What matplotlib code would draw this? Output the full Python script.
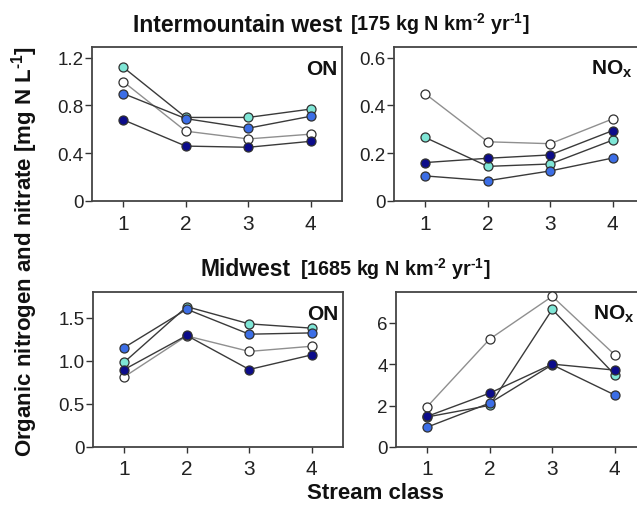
import matplotlib
matplotlib.use("Agg")
import matplotlib.pyplot as plt

plt.rcParams['font.family'] = ['Liberation Sans', 'DejaVu Sans']
plt.rcParams['mathtext.default'] = 'regular'

stream_class = [1, 2, 3, 4]
series_names = ["white", "cyan", "blue", "navy"]

# Intermountain west
imw_on_white = [1.00, 0.585, 0.52, 0.56]
imw_on_cyan = [1.12, 0.70, 0.70, 0.77]
imw_on_blue = [0.90, 0.69, 0.61, 0.71]
imw_on_navy = [0.68, 0.46, 0.45, 0.50]

imw_nox_white = [0.449, 0.248, 0.240, 0.344]
imw_nox_cyan = [0.266, 0.145, 0.155, 0.255]
imw_nox_blue = [0.105, 0.085, 0.126, 0.180]
imw_nox_navy = [0.161, 0.179, 0.193, 0.295]

# Midwest
mw_on_white = [0.815, 1.29, 1.11, 1.17]
mw_on_cyan = [0.985, 1.63, 1.43, 1.38]
mw_on_blue = [1.155, 1.60, 1.31, 1.325]
mw_on_navy = [0.90, 1.295, 0.90, 1.07]

mw_nox_white = [1.95, 5.21, 7.27, 4.45]
mw_nox_cyan = [1.45, 2.01, 6.64, 3.49]
mw_nox_blue = [0.96, 2.12, 3.97, 2.51]
mw_nox_navy = [1.48, 2.60, 4.00, 3.71]

yticks_imw_on = [0, 0.4, 0.8, 1.2]
yticklabels_imw_on = ["0", "0.4", "0.8", "1.2"]
yticks_imw_nox = [0, 0.2, 0.4, 0.6]
yticklabels_imw_nox = ["0", "0.2", "0.4", "0.6"]
yticks_mw_on = [0, 0.5, 1.0, 1.5]
yticklabels_mw_on = ["0", "0.5", "1.0", "1.5"]
yticks_mw_nox = [0, 2, 4, 6]
yticklabels_mw_nox = ["0", "2", "4", "6"]

face = {"white": "#ffffff", "cyan": "#7fe6d6", "blue": "#3c6ee6", "navy": "#0c0c8a"}
linec = {"white": "#8f8f8f", "cyan": "#3a3a3a", "blue": "#3a3a3a", "navy": "#3a3a3a"}

W, H = 637, 506
fig = plt.figure(figsize=(W / 100, H / 100), dpi=100)

def make_ax(left, top, bottom, right):
    return fig.add_axes([left / W, 1 - bottom / H, (right - left) / W, (bottom - top) / H])

panels = [
    (make_ax(92, 48, 202, 342), [imw_on_white, imw_on_cyan, imw_on_blue, imw_on_navy],
     (0, 1.29), yticks_imw_on, yticklabels_imw_on, "ON", True),
    (make_ax(394, 48, 202, 644), [imw_nox_white, imw_nox_cyan, imw_nox_blue, imw_nox_navy],
     (0, 0.645), yticks_imw_nox, yticklabels_imw_nox, "NO$_x$", False),
    (make_ax(93, 293, 448, 343), [mw_on_white, mw_on_cyan, mw_on_blue, mw_on_navy],
     (0, 1.80), yticks_mw_on, yticklabels_mw_on, "ON", True),
    (make_ax(396, 293, 448, 646), [mw_nox_white, mw_nox_cyan, mw_nox_blue, mw_nox_navy],
     (0, 7.48), yticks_mw_nox, yticklabels_mw_nox, "NO$_x$", False),
]

for ax, data, ylim, yt, ytl, label, right_spine in panels:
    for name, vals in zip(series_names, data):
        ax.plot(stream_class, vals, color=linec[name], lw=1.0, marker='o', ms=6.5,
                mfc=face[name], mec='#303030', mew=0.9, zorder=3, clip_on=False)
    ax.set_xlim(0.5, 4.5)
    ax.set_ylim(*ylim)
    ax.set_xticks(stream_class)
    ax.set_xticklabels([str(s) for s in stream_class])
    ax.set_yticks(yt)
    ax.set_yticklabels(ytl)
    ax.tick_params(axis='x', labelsize=15, length=4, width=1, colors='#333333', pad=5, labelcolor='#222222')
    ax.tick_params(axis='y', labelsize=13.5, length=5, width=1, colors='#333333', pad=1, labelcolor='#222222')
    for sp in ax.spines.values():
        sp.set_color('#444444')
        sp.set_linewidth(1.3)
    ax.spines['right'].set_visible(right_spine)
    ax.text(0.98 if right_spine else 0.955, 0.86, label, transform=ax.transAxes, ha='right',
            va='center', fontsize=15, fontweight='bold', color='#111111')

hy = "\u2010"
# titles
fig.text(133 / W, 1 - 25 / H, "Intermountain west", ha='left', va='center',
         fontsize=16.5, fontweight='bold', color='#111111')
fig.text(350 / W, 1 - 24 / H, "[175 kg N km$^{" + hy + "2}$ yr$^{" + hy + "1}$]", ha='left', va='center',
         fontsize=14.2, fontweight='bold', color='#111111')
fig.text(200 / W, 1 - 270 / H, "Midwest", ha='left', va='center',
         fontsize=16.5, fontweight='bold', color='#111111')
fig.text(300 / W, 1 - 269 / H, "[1685 kg N km$^{" + hy + "2}$ yr$^{" + hy + "1}$]", ha='left', va='center',
         fontsize=14.2, fontweight='bold', color='#111111')

fig.text(25 / W, 1 - 252 / H, "Organic nitrogen and nitrate [mg N L$^{" + hy + "1}$]", rotation=90,
         ha='center', va='center', fontsize=16, fontweight='bold', color='#111111')
fig.text(375 / W, 1 - 494 / H, "Stream class", ha='center', va='center',
         fontsize=16, fontweight='bold', color='#111111')

fig.savefig("out.png", dpi=100)
